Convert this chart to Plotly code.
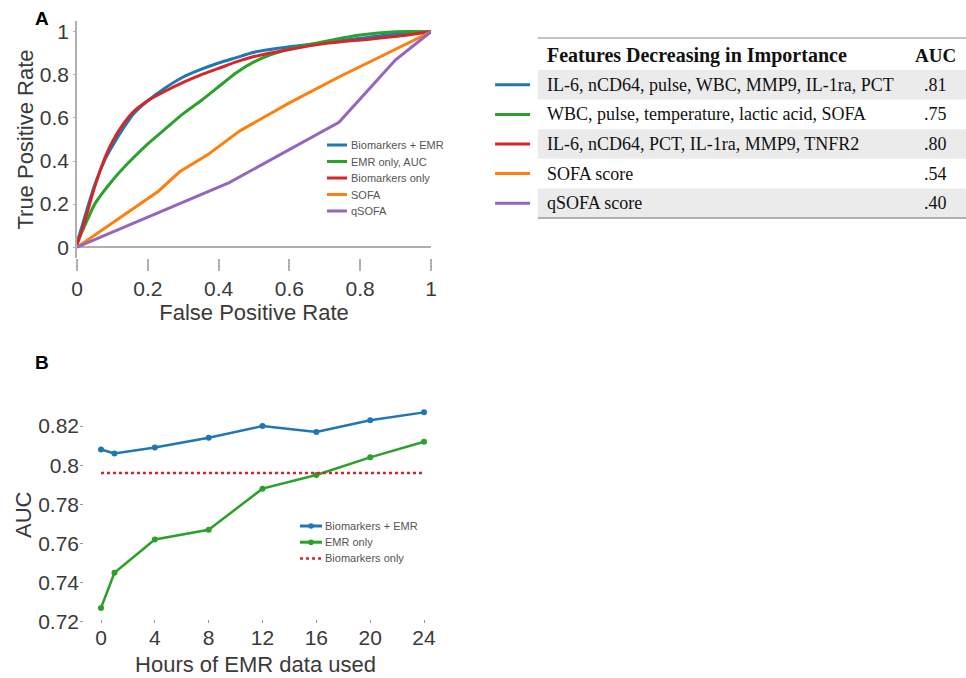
import plotly.graph_objects as go

# ---------------- Data ----------------
# Panel A: ROC curves
fpr_bio_emr = [0, 0.02, 0.05, 0.08, 0.1, 0.13, 0.16, 0.2, 0.25, 0.3, 0.35, 0.4, 0.45, 0.5, 0.6, 0.7, 0.8, 0.9, 1.0]
tpr_bio_emr = [0.02, 0.13, 0.29, 0.41, 0.47, 0.55, 0.62, 0.68, 0.74, 0.79, 0.825, 0.855, 0.88, 0.905, 0.93, 0.95, 0.97, 0.99, 1.0]

fpr_emr = [0, 0.03, 0.05, 0.1, 0.15, 0.2, 0.25, 0.3, 0.35, 0.4, 0.45, 0.5, 0.55, 0.6, 0.7, 0.8, 0.9, 1.0]
tpr_emr = [0.02, 0.13, 0.2, 0.31, 0.4, 0.48, 0.55, 0.62, 0.68, 0.745, 0.81, 0.86, 0.895, 0.92, 0.955, 0.985, 1.0, 1.0]

fpr_bio = [0, 0.02, 0.05, 0.08, 0.1, 0.13, 0.16, 0.2, 0.25, 0.3, 0.35, 0.4, 0.45, 0.5, 0.6, 0.7, 0.8, 0.9, 1.0]
tpr_bio = [0.01, 0.11, 0.28, 0.42, 0.49, 0.57, 0.63, 0.68, 0.725, 0.765, 0.8, 0.83, 0.86, 0.885, 0.918, 0.945, 0.962, 0.978, 1.0]

fpr_sofa = [0, 0.23, 0.29, 0.37, 0.46, 0.6, 0.74, 1.0]
tpr_sofa = [0, 0.26, 0.35, 0.43, 0.54, 0.67, 0.79, 1.0]

fpr_qsofa = [0, 0.43, 0.74, 0.9, 1.0]
tpr_qsofa = [0, 0.3, 0.58, 0.87, 1.0]

roc_names = ["Biomarkers + EMR", "EMR only, AUC", "Biomarkers only", "SOFA", "qSOFA"]
roc_colors = ["#1f77b4", "#2ca02c", "#d62728", "#ff7f0e", "#9467bd"]

roc_ticks = [0, 0.2, 0.4, 0.6, 0.8, 1.0]
roc_ticktext = ["0", "0.2", "0.4", "0.6", "0.8", "1"]

# Table next to panel A
table_features = [
    "IL-6, nCD64, pulse, WBC, MMP9, IL-1ra, PCT",
    "WBC, pulse, temperature, lactic acid, SOFA",
    "IL-6, nCD64, PCT, IL-1ra, MMP9, TNFR2",
    "SOFA score",
    "qSOFA score",
]
table_auc = [".81", ".75", ".80", ".54", ".40"]
table_header = ["Features Decreasing in Importance", "AUC"]

# Panel B: AUC vs hours of EMR data
hours = [0, 1, 4, 8, 12, 16, 20, 24]
auc_bio_emr = [0.808, 0.806, 0.809, 0.814, 0.820, 0.817, 0.823, 0.827]
auc_emr = [0.727, 0.745, 0.762, 0.767, 0.788, 0.795, 0.804, 0.812]
auc_bio_only = 0.796
b_names = ["Biomarkers + EMR", "EMR only", "Biomarkers only"]
b_colors = ["#1f77b4", "#2ca02c", "#d62728"]
b_ticks_x = [0, 4, 8, 12, 16, 20, 24]
b_ticks_y = [0.72, 0.74, 0.76, 0.78, 0.80, 0.82]
b_ticktext_y = ["0.72", "0.74", "0.76", "0.78", "0.8", "0.82"]

# ---------------- Figure ----------------
W, H = 966, 678
SANS = "Liberation Sans, Arial, sans-serif"
SERIF = "Liberation Serif, Times New Roman, serif"
TXT = "#3a3a3a"
GRAY = "#b0b0b0"


def px_x(p):
    return p / W


def px_y(p):
    return 1 - p / H


fig = go.Figure()

roc_data = [
    (fpr_bio_emr, tpr_bio_emr, "spline"),
    (fpr_emr, tpr_emr, "spline"),
    (fpr_bio, tpr_bio, "spline"),
    (fpr_sofa, tpr_sofa, "linear"),
    (fpr_qsofa, tpr_qsofa, "linear"),
]
for (xs, ys, shape), name, col in zip(roc_data, roc_names, roc_colors):
    fig.add_trace(go.Scatter(
        x=xs, y=ys, mode="lines", name=name, showlegend=False,
        line=dict(color=col, width=3, shape=shape, smoothing=0.6),
        xaxis="x", yaxis="y",
    ))

# Panel B traces
fig.add_trace(go.Scatter(
    x=hours, y=auc_bio_emr, mode="lines+markers", name=b_names[0], showlegend=False,
    line=dict(color=b_colors[0], width=2.5), marker=dict(size=6, color=b_colors[0]),
    xaxis="x2", yaxis="y2",
))
fig.add_trace(go.Scatter(
    x=hours, y=auc_emr, mode="lines+markers", name=b_names[1], showlegend=False,
    line=dict(color=b_colors[1], width=2.5), marker=dict(size=6, color=b_colors[1]),
    xaxis="x2", yaxis="y2",
))
fig.add_trace(go.Scatter(
    x=[hours[0], hours[-1]], y=[auc_bio_only, auc_bio_only], mode="lines", name=b_names[2],
    showlegend=False, line=dict(color=b_colors[2], width=2.5, dash="dot"),
    xaxis="x2", yaxis="y2",
))

# Table key lines
for i, col in enumerate(roc_colors):
    fig.add_trace(go.Scatter(
        x=[0.031, 0.103], y=[i, i], mode="lines", showlegend=False,
        line=dict(color=col, width=3), xaxis="x3", yaxis="y3", hoverinfo="skip",
    ))

shapes = []
annotations = []

# shaded rows
for i in range(len(table_features)):
    if i % 2 == 0:
        shapes.append(dict(type="rect", xref="x3", yref="y3", x0=0.119, x1=1.0,
                           y0=i - 0.5, y1=i + 0.5, fillcolor="#ebebeb", line=dict(width=0),
                           layer="below"))
shapes.append(dict(type="line", xref="x3", yref="y3", x0=0.119, x1=1.0, y0=-1.58, y1=-1.58,
                   line=dict(color=GRAY, width=1.5)))
shapes.append(dict(type="line", xref="x3", yref="y3", x0=0.119, x1=1.0, y0=4.5, y1=4.5,
                   line=dict(color=GRAY, width=2)))

annotations.append(dict(xref="x3", yref="y3", x=0.134, y=-1.0, text="<b>%s</b>" % table_header[0],
                        showarrow=False, xanchor="left", yanchor="middle",
                        font=dict(family=SERIF, size=20, color="#111")))
annotations.append(dict(xref="x3", yref="y3", x=0.938, y=-1.0, text="<b>%s</b>" % table_header[1],
                        showarrow=False, xanchor="center", yanchor="middle",
                        font=dict(family=SERIF, size=19, color="#111")))
for i, (f, a) in enumerate(zip(table_features, table_auc)):
    annotations.append(dict(xref="x3", yref="y3", x=0.134, y=i, text=f, showarrow=False,
                            xanchor="left", yanchor="middle",
                            font=dict(family=SERIF, size=18, color="#111")))
    annotations.append(dict(xref="x3", yref="y3", x=0.938, y=i, text=a, showarrow=False,
                            xanchor="center", yanchor="middle",
                            font=dict(family=SERIF, size=18, color="#111")))

# panel letters
annotations.append(dict(xref="paper", yref="paper", x=px_x(42), y=px_y(18), text="<b>A</b>",
                        showarrow=False, xanchor="center", yanchor="middle",
                        font=dict(family=SANS, size=19, color="#000")))
annotations.append(dict(xref="paper", yref="paper", x=px_x(42), y=px_y(362), text="<b>B</b>",
                        showarrow=False, xanchor="center", yanchor="middle",
                        font=dict(family=SANS, size=19, color="#000")))


# compact legends (matplotlib style: short keys, tight rows)
def add_legend(names, colors, x_key0, x_key1, x_text, y_first, dy, dashes=None, markers=None):
    for k, (nm, col) in enumerate(zip(names, colors)):
        yy = px_y(y_first + k * dy)
        dash = dashes[k] if dashes else "solid"
        shapes.append(dict(type="line", xref="paper", yref="paper", x0=px_x(x_key0), x1=px_x(x_key1),
                           y0=yy, y1=yy, line=dict(color=col, width=3 if dash == "solid" else 2.5,
                                                   dash=dash)))
        if markers and markers[k]:
            cx = (x_key0 + x_key1) / 2
            cy = y_first + k * dy
            r = 2.8
            shapes.append(dict(type="circle", xref="paper", yref="paper",
                               x0=px_x(cx - r), x1=px_x(cx + r), y0=px_y(cy + r), y1=px_y(cy - r),
                               fillcolor=col, line=dict(color=col, width=0)))
        annotations.append(dict(xref="paper", yref="paper", x=px_x(x_text), y=yy, text=nm,
                                showarrow=False, xanchor="left", yanchor="middle",
                                font=dict(family=SANS, size=11, color="#555")))


add_legend(roc_names, roc_colors, 327, 347, 349, 145, 16.5)
add_legend(b_names, b_colors, 300, 322, 323, 526, 16.2,
           dashes=["solid", "solid", "dot"], markers=[True, True, False])

tickfont = dict(family=SANS, size=21, color=TXT)
titlefont = dict(family=SANS, size=22, color=TXT)

fig.update_layout(
    width=W, height=H, margin=dict(l=0, r=0, t=0, b=0),
    template="none", paper_bgcolor="white", plot_bgcolor="white",
    shapes=shapes, annotations=annotations, showlegend=False,
    xaxis=dict(domain=[px_x(77), px_x(431)], range=[0, 1], tickvals=roc_ticks, ticktext=roc_ticktext,
               ticks="outside", ticklen=12, tickwidth=1.5, tickcolor=GRAY, showline=False,
               showgrid=False, zeroline=False, tickfont=tickfont, automargin=False,
               title=dict(text="False Positive Rate", font=titlefont, standoff=4), anchor="y"),
    yaxis=dict(domain=[px_y(258), px_y(21)], range=[-0.05, 1.05], tickvals=roc_ticks, ticktext=roc_ticktext,
               ticks="outside", ticklen=2, tickwidth=1, tickcolor=GRAY, showline=True, linecolor=GRAY,
               linewidth=1.5, showgrid=False, zeroline=True, zerolinecolor=GRAY, zerolinewidth=1.5,
               tickfont=tickfont, automargin=False,
               title=dict(text="True Positive Rate", font=titlefont, standoff=0), anchor="x"),
    xaxis2=dict(domain=[px_x(80), px_x(431)], range=[-1.56, 24.52], tickvals=b_ticks_x,
                ticks="inside", ticklen=3, tickwidth=1, tickcolor="#999", showline=False,
                showgrid=False, zeroline=False, tickfont=tickfont, automargin=False,
                title=dict(text="Hours of EMR data used", font=titlefont, standoff=8), anchor="y2"),
    yaxis2=dict(domain=[px_y(623), px_y(406.5)], range=[0.7193, 0.83], tickvals=b_ticks_y,
                ticktext=b_ticktext_y, ticks="inside", ticklen=3, tickwidth=1, tickcolor="#999",
                showline=False, showgrid=False, zeroline=False, tickfont=tickfont, automargin=False,
                title=dict(text="AUC", font=titlefont, standoff=0), anchor="x2"),
    xaxis3=dict(domain=[px_x(480), 1.0], range=[0, 1], visible=False, fixedrange=True, anchor="y3"),
    yaxis3=dict(domain=[px_y(247.6), px_y(10.8)], range=[5.5, -2.5], visible=False, fixedrange=True,
                anchor="x3"),
)

fig.write_html("out.html", config={"displayModeBar": False},
               post_script="document.body.style.margin='0';document.body.style.overflow='hidden';")
